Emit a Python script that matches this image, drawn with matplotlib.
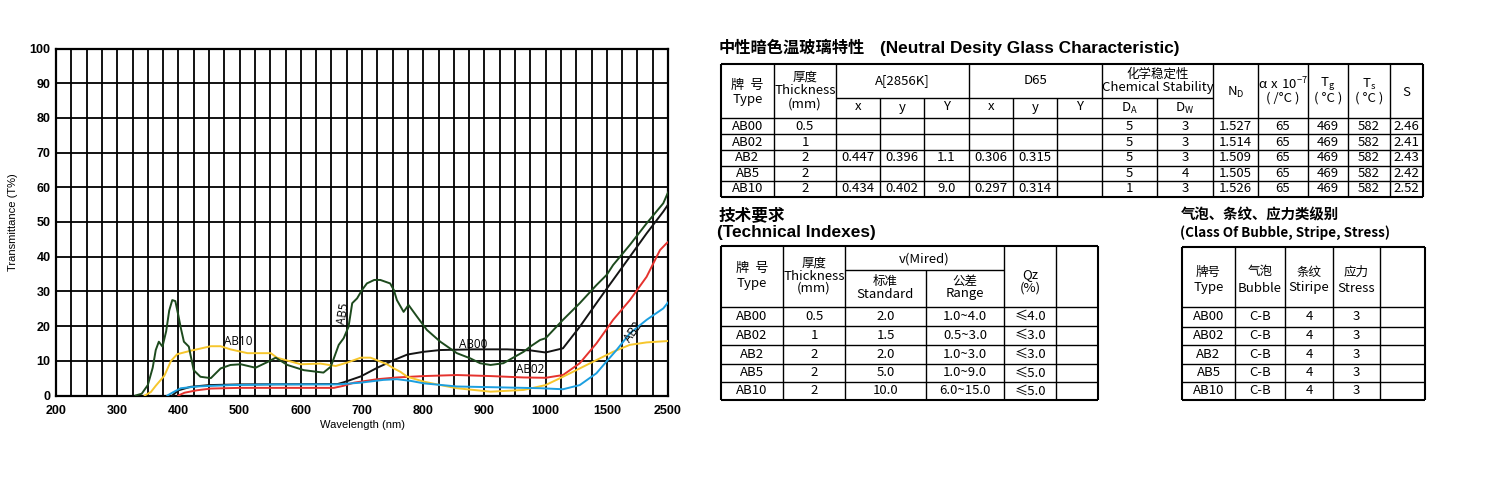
import numpy as np
import matplotlib
matplotlib.use('Agg')
import matplotlib.pyplot as plt

# x axis is linear to 1000 nm, then 1000 -> 1500 -> 2500 get the same width
tick_wl = [200, 300, 400, 500, 600, 700, 800, 900, 1000, 1500, 2500]

# transmittance curves (wavelength nm, T%)
ab5_wl = [330, 340, 350, 358, 363, 368, 374, 380, 385, 390, 395, 400, 404, 409, 417, 425, 436, 453,
          469, 485, 502, 526, 545, 559, 578, 605, 637, 649, 662, 670, 678, 684, 692, 700, 708, 720,
          730, 746, 752, 757, 768, 776, 790, 806, 828, 855, 877, 893, 910, 931, 964, 975, 991, 1000,
          1142, 1279, 1415, 1500, 1603, 1877, 2150, 2423, 2500]
ab5_t = [0, 0.5, 3.0, 8.0, 13.1, 15.5, 14.1, 18.5, 24.5, 27.5, 27.2, 23.0, 19.4, 15.5, 14.1, 7.3, 5.4, 5.0,
         7.8, 8.8, 9.0, 8.0, 9.6, 10.9, 8.8, 7.3, 6.6, 8.3, 14.6, 16.5, 19.8, 26.6, 28.0, 30.4, 32.3, 33.3,
         33.3, 32.3, 30.4, 27.5, 24.1, 26.1, 22.7, 18.9, 15.5, 12.2, 10.7, 9.3, 8.8, 9.3, 12.6, 14.1, 16.0, 16.5,
         21.8, 26.6, 31.8, 34.8, 37.6, 43.4, 49.6, 55.4, 58.5]

ab00_wl = [390, 400, 420, 450, 500, 660, 670, 698, 725, 752, 774, 801, 828, 882, 937, 975, 1000,
           1142, 1279, 1415, 1500, 1603, 1877, 2150, 2423, 2500]
ab00_t = [0, 1.5, 2.5, 3.0, 3.2, 3.3, 3.8, 5.5, 8.0, 10.2, 11.8, 12.6, 13.1, 13.3, 13.3, 13.0, 12.4,
          13.6, 19.8, 26.6, 30.8, 33.3, 40.0, 46.7, 53.0, 55.0]

ab02_wl = [400, 410, 430, 453, 500, 654, 670, 687, 725, 757, 801, 855, 910, 964, 1000,
           1142, 1279, 1415, 1500, 1603, 1877, 2150, 2369, 2478, 2500]
ab02_t = [0, 0.8, 1.5, 2.0, 2.2, 2.2, 2.8, 3.7, 4.7, 5.2, 5.6, 5.9, 5.6, 5.2, 5.1,
          5.9, 9.3, 15.0, 19.2, 21.8, 27.5, 34.2, 41.9, 43.9, 44.2]

ab2_wl = [382, 392, 404, 431, 485, 560, 660, 698, 735, 757, 780, 801, 855, 910, 991,
          1142, 1279, 1415, 1500, 1659, 1877, 2150, 2423, 2500]
ab2_t = [0, 1.0, 2.1, 2.6, 3.0, 3.2, 3.2, 3.7, 4.5, 4.7, 4.2, 3.5, 2.6, 2.4, 2.1,
         1.8, 3.0, 6.4, 9.9, 13.1, 17.9, 21.8, 25.1, 26.8]

ab10_wl = [345, 355, 363, 377, 388, 398, 420, 453, 469, 485, 513, 551, 561, 600, 632, 657, 676,
           698, 714, 741, 752, 763, 774, 801, 828, 855, 910, 964, 1000, 1142, 1279, 1415, 1603,
           1877, 2150, 2500]
ab10_t = [0, 1.0, 2.8, 5.7, 10.0, 11.9, 12.9, 14.2, 14.2, 13.3, 12.2, 12.2, 10.9, 9.0, 9.2, 8.5, 9.5,
          10.9, 10.9, 9.0, 7.8, 6.8, 5.4, 4.0, 3.0, 2.1, 1.1, 1.6, 3.0, 5.4, 7.8, 10.2, 12.6,
          14.6, 15.3, 15.7]

# table 1: neutral density glass characteristic
t1_types = ['AB00', 'AB02', 'AB2', 'AB5', 'AB10']
t1_thick = ['0.5', '1', '2', '2', '2']
t1_ax = ['', '', '0.447', '', '0.434']
t1_ay = ['', '', '0.396', '', '0.402']
t1_aY = ['', '', '1.1', '', '9.0']
t1_dx = ['', '', '0.306', '', '0.297']
t1_dy = ['', '', '0.315', '', '0.314']
t1_dY = ['', '', '', '', '']
t1_da = ['5', '5', '5', '5', '1']
t1_dw = ['3', '3', '3', '4', '3']
t1_nd = ['1.527', '1.514', '1.509', '1.505', '1.526']
t1_alpha = ['65', '65', '65', '65', '65']
t1_tg = ['469', '469', '469', '469', '469']
t1_ts = ['582', '582', '582', '582', '582']
t1_s = ['2.46', '2.41', '2.43', '2.42', '2.52']

# table 2: technical indexes
t2_thick = ['0.5', '1', '2', '2', '2']
t2_std = ['2.0', '1.5', '2.0', '5.0', '10.0']
t2_range = ['1.0~4.0', '0.5~3.0', '1.0~3.0', '1.0~9.0', '6.0~15.0']
t2_qz = ['≤4.0', '≤3.0', '≤3.0', '≤5.0', '≤5.0']

# table 3: bubble / stripe / stress class
t3_bubble = ['C-B', 'C-B', 'C-B', 'C-B', 'C-B']
t3_stripe = ['4', '4', '4', '4', '4']
t3_stress = ['3', '3', '3', '3', '3']

CJK = ['Noto Sans CJK SC', 'DejaVu Sans']
ARIAL = ['Liberation Sans', 'DejaVu Sans']

fig = plt.figure(figsize=(15, 4.8), dpi=100)
ax = fig.add_axes([56 / 1500, 84.5 / 480, 612 / 1500, 347 / 480])

pos = np.arange(len(tick_wl))
def fwd(x):
    return np.interp(x, tick_wl, pos)
def inv(p):
    return np.interp(p, pos, tick_wl)
ax.set_xscale('function', functions=(fwd, inv))
ax.set_xlim(200, 2500)
ax.set_ylim(0, 100)

minor = list(np.arange(225, 1000, 25)) + [1125, 1250, 1375, 1750, 2000, 2250]
ax.set_xticks(tick_wl)
ax.set_xticks(minor, minor=True)
ax.set_xticklabels([str(t) for t in tick_wl], fontweight='bold', fontsize=9, family=ARIAL)
ax.set_yticks(range(0, 101, 10))
ax.set_yticklabels([str(t) for t in range(0, 101, 10)], fontweight='bold', fontsize=9, family=ARIAL)
ax.tick_params(which='both', length=0)
ax.tick_params(axis='x', pad=7)
ax.tick_params(axis='y', pad=4)
ax.grid(True, which='both', axis='x', color='black', lw=1.3)
ax.grid(True, which='major', axis='y', color='black', lw=1.3)
ax.set_axisbelow(True)
for sp in ax.spines.values():
    sp.set_linewidth(1.6)

ax.plot(ab00_wl, ab00_t, color='#141414', lw=1.4, zorder=3)
ax.plot(ab02_wl, ab02_t, color='#e5322d', lw=1.4, zorder=3)
ax.plot(ab10_wl, ab10_t, color='#f6c62c', lw=1.4, zorder=3)
ax.plot(ab2_wl, ab2_t, color='#1c9fe0', lw=1.4, zorder=4)
ax.plot(ab5_wl, ab5_t, color='#1d4a1d', lw=1.4, zorder=5)

lbl = dict(fontsize=8.5, family='Open Sans', ha='center', va='center', zorder=6)
ax.text(497, 15.7, 'AB10', **lbl)
ax.text(670, 23.7, 'AB5', rotation=80, **lbl)
ax.text(882, 14.8, 'AB00', **lbl)
ax.text(975, 7.5, 'AB02', **lbl)
ax.text(1929, 18.4, 'AB2', rotation=55, **lbl)

ax.set_xlabel('Wavelength (nm)', fontsize=8, family=ARIAL, labelpad=2)
ax.set_ylabel('Transmittance (T%)', fontsize=8, family=ARIAL, labelpad=8)

# overlay in pixel coordinates for the tables
tax = fig.add_axes([0, 0, 1, 1])
tax.set_xlim(0, 1500)
tax.set_ylim(480, 0)
tax.axis('off')
tax.patch.set_alpha(0)

FS = 9.5

def hline(y, x0, x1, lw=1.0):
    tax.plot([x0, x1], [y, y], color='black', lw=lw, solid_capstyle='butt')

def vline(x, y0, y1, lw=1.0):
    tax.plot([x, x], [y0, y1], color='black', lw=lw, solid_capstyle='butt')

def cell(x0, x1, y, s, size=FS):
    tax.text((x0 + x1) / 2, y, s, ha='center', va='center', fontsize=size, family=CJK)

def frame(x0, x1, y0, y1):
    hline(y0, x0, x1, 1.5)
    hline(y1, x0, x1, 1.5)
    vline(x0, y0, y1, 1.5)
    vline(x1, y0, y1, 1.5)

# ---- table 1
tax.text(719, 48, '中性暗色温玻璃特性', fontsize=11.7, fontweight='bold', family=CJK, va='center')
tax.text(880, 48, '(Neutral Desity Glass Characteristic)', fontsize=12.4, fontweight='bold',
         family=ARIAL, va='center')
c1 = [721, 774, 836, 880, 924, 969, 1013, 1057, 1102, 1157, 1213, 1258, 1308, 1348, 1390, 1423]
r1 = [118, 134, 150, 165.5, 181, 197]
frame(c1[0], c1[-1], 64, 197)
for x in c1[1:-1]:
    top = 98 if x in (880, 924, 1013, 1057, 1157) else 64
    vline(x, top, 197)
hline(98, c1[2], c1[10])
for y in r1[:-1]:
    hline(y, c1[0], c1[-1])

cell(c1[0], c1[1], 85, '牌  号')
cell(c1[0], c1[1], 100, 'Type')
cell(c1[1], c1[2], 77, '厚度', FS - 0.5)
cell(c1[1], c1[2], 91, 'Thickness')
cell(c1[1], c1[2], 104, '(mm)')
cell(c1[2], c1[5], 81, 'A[2856K]')
cell(c1[5], c1[8], 81, 'D65')
cell(c1[8], c1[10], 74, '化学稳定性', FS - 0.5)
cell(c1[8], c1[10], 88, 'Chemical Stability')
for i, s in enumerate(['x', 'y', 'Y', 'x', 'y', 'Y']):
    cell(c1[2 + i], c1[3 + i], 107, s)
cell(c1[8], c1[9], 108, r'$\mathregular{D_A}$')
cell(c1[9], c1[10], 108, r'$\mathregular{D_W}$')
cell(c1[10], c1[11], 92, r'$\mathregular{N_D}$')
cell(c1[11], c1[12], 84, r'$\mathregular{\alpha\ x\ 10^{-7}}$')
cell(c1[11], c1[12], 98, '( /°C )')
cell(c1[12], c1[13], 84, r'$\mathregular{T_g}$')
cell(c1[12], c1[13], 98, '( °C )')
cell(c1[13], c1[14], 84, r'$\mathregular{T_s}$')
cell(c1[13], c1[14], 98, '( °C )')
cell(c1[14], c1[15], 92, 'S')

t1_cols = [t1_types, t1_thick, t1_ax, t1_ay, t1_aY, t1_dx, t1_dy, t1_dY, t1_da, t1_dw,
           t1_nd, t1_alpha, t1_tg, t1_ts, t1_s]
for j, col in enumerate(t1_cols):
    for i, s in enumerate(col):
        cell(c1[j], c1[j + 1], (r1[i] + r1[i + 1]) / 2, s)

# ---- table 2
tax.text(719, 215, '技术要求', fontsize=12, fontweight='bold', family=CJK, va='center')
tax.text(717, 233, '(Technical Indexes)', fontsize=12.4, fontweight='bold', family=ARIAL, va='center')
c2 = [721, 783, 845, 926, 1004, 1056, 1098]
r2 = [307, 326, 345, 363.5, 382, 400]
frame(c2[0], c2[-1], 246, 400)
for x in c2[1:-1]:
    vline(x, 270 if x == 926 else 246, 400)
hline(270, c2[2], c2[4])
for y in r2[:-1]:
    hline(y, c2[0], c2[-1])
cell(c2[0], c2[1], 268, '牌  号')
cell(c2[0], c2[1], 284, 'Type')
cell(c2[1], c2[2], 263, '厚度', FS - 0.5)
cell(c2[1], c2[2], 276, 'Thickness')
cell(c2[1], c2[2], 288, '(mm)')
cell(c2[2], c2[4], 259, 'v(Mired)')
cell(c2[2], c2[3], 281, '标准', FS - 0.5)
cell(c2[2], c2[3], 294, 'Standard')
cell(c2[3], c2[4], 281, '公差', FS - 0.5)
cell(c2[3], c2[4], 294, 'Range')
cell(c2[4], c2[5], 275, 'Qz')
cell(c2[4], c2[5], 288, '(%)')
t2_cols = [t1_types, t2_thick, t2_std, t2_range, t2_qz]
for j, col in enumerate(t2_cols):
    for i, s in enumerate(col):
        cell(c2[j], c2[j + 1], (r2[i] + r2[i + 1]) / 2, s)

# ---- table 3
tax.text(1181, 215, '气泡、条纹、应力类级别', fontsize=10.4, fontweight='bold', family=CJK, va='center')
tax.text(1180, 233, '(Class Of Bubble, Stripe, Stress)', fontsize=9.7, fontweight='bold',
         family=CJK, va='center')
c3 = [1182, 1235, 1285, 1333, 1380, 1425]
r3 = [307, 326.5, 345, 363.5, 382, 400]
frame(c3[0], c3[-1], 247, 400)
for x in c3[1:-1]:
    vline(x, 247, 400)
for y in r3[:-1]:
    hline(y, c3[0], c3[-1])
for j, (zh, en) in enumerate([('牌号', 'Type'), ('气泡', 'Bubble'), ('条纹', 'Stiripe'), ('应力', 'Stress')]):
    cell(c3[j], c3[j + 1], 272, zh, FS - 0.5)
    cell(c3[j], c3[j + 1], 288, en)
t3_cols = [t1_types, t3_bubble, t3_stripe, t3_stress]
for j, col in enumerate(t3_cols):
    for i, s in enumerate(col):
        cell(c3[j], c3[j + 1], (r3[i] + r3[i + 1]) / 2, s)

fig.savefig('out.png', dpi=100, facecolor='white')
